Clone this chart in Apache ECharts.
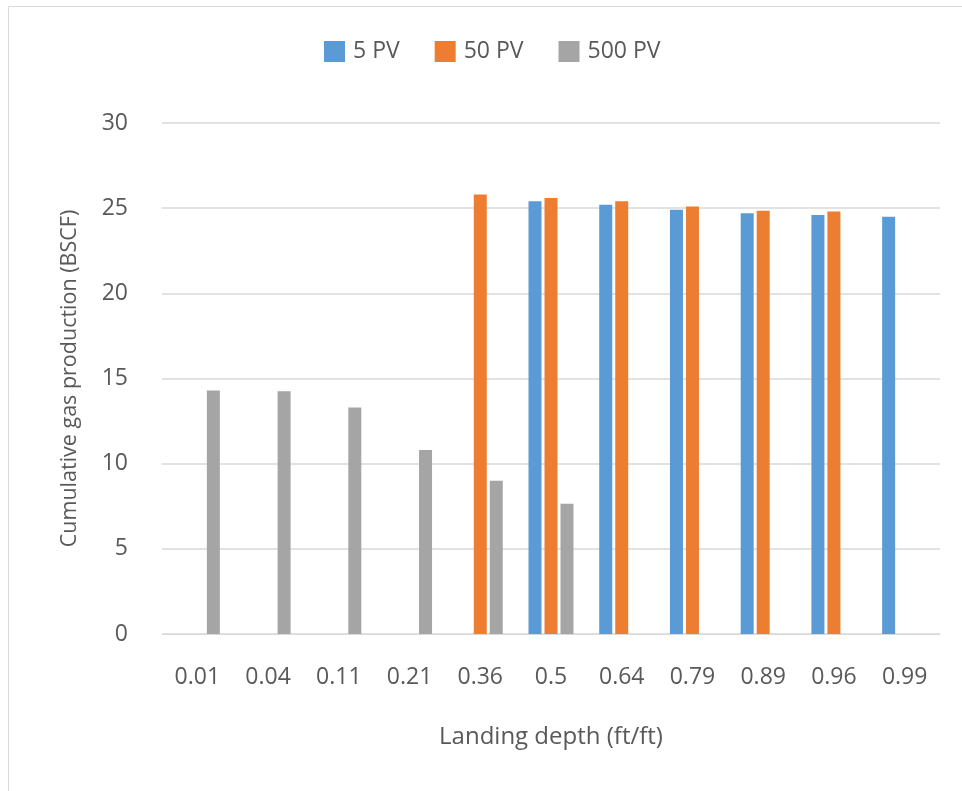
<!DOCTYPE html>
<html>
<head>
<meta charset="utf-8">
<title>Cumulative gas production vs landing depth</title>
<script src="https://cdn.jsdelivr.net/npm/echarts@6/dist/echarts.min.js"></script>
<style>
  html, body { margin: 0; padding: 0; background: #ffffff; }
  #chart { width: 962px; height: 791px; }
</style>
</head>
<body>
<div id="chart"></div>
<script>
// Landing depth categories (ft/ft)
const depths = ['0.01', '0.04', '0.11', '0.21', '0.36', '0.5', '0.64', '0.79', '0.89', '0.96', '0.99'];

// Cumulative gas production (BSCF) per pore-volume case; null = no run
const pv5   = [null, null, null, null, null, 25.4, 25.2, 24.9, 24.7, 24.6, 24.5];
const pv50  = [null, null, null, null, 25.8, 25.6, 25.4, 25.1, 24.85, 24.8, null];
const pv500 = [14.3, 14.25, 13.3, 10.8, 9.0, 7.65, null, null, null, null, null];

const yTicks = { min: 0, max: 30, step: 5 };

const textColor = '#595959';
const fontFamily = '"Open Sans", "Noto Sans", sans-serif';

const chart = echarts.init(document.getElementById('chart'), null, { renderer: 'canvas' });

function barSeries(name, data, color) {
  return {
    name: name,
    type: 'bar',
    data: data,
    barWidth: 13,
    barGap: '23%',
    itemStyle: { color: color },
    emphasis: { disabled: true }
  };
}

chart.setOption({
  animation: false,
  backgroundColor: '#ffffff',
  textStyle: { fontFamily: fontFamily, color: textColor },
  graphic: [{
    type: 'rect',
    shape: { x: 8.5, y: 6.5, width: 1000, height: 1000 },
    style: { fill: 'none', stroke: '#d9d9d9', lineWidth: 1 },
    silent: true,
    z: -1
  }],
  legend: {
    top: 35,
    left: 319,
    itemWidth: 21,
    itemHeight: 21,
    itemGap: 35,
    icon: 'rect',
    textStyle: { fontSize: 23, color: textColor, fontFamily: fontFamily, padding: [0, 0, 0, 3] },
    data: ['5 PV', '50 PV', '500 PV']
  },
  grid: { left: 162, right: 22, top: 123, bottom: 157 },
  xAxis: {
    type: 'category',
    data: depths,
    name: 'Landing depth (ft/ft)',
    nameLocation: 'middle',
    nameGap: 91,
    nameTextStyle: { fontSize: 24, color: textColor },
    axisLine: { lineStyle: { color: '#d9d9d9', width: 1 } },
    axisTick: { show: false },
    axisLabel: { fontSize: 23, color: textColor, margin: 32 }
  },
  yAxis: {
    type: 'value',
    min: yTicks.min,
    max: yTicks.max,
    interval: yTicks.step,
    name: 'Cumulative gas production (BSCF)',
    nameLocation: 'middle',
    nameGap: 81,
    nameTextStyle: { fontSize: 21.5, color: textColor },
    axisLine: { show: false },
    axisTick: { show: false },
    axisLabel: { fontSize: 23, color: textColor, margin: 34 },
    splitLine: { lineStyle: { color: '#d9d9d9', width: 1.5 } }
  },
  series: [
    barSeries('5 PV', pv5, '#5b9bd5'),
    barSeries('50 PV', pv50, '#ed7d31'),
    barSeries('500 PV', pv500, '#a5a5a5')
  ]
});
</script>
</body>
</html>
